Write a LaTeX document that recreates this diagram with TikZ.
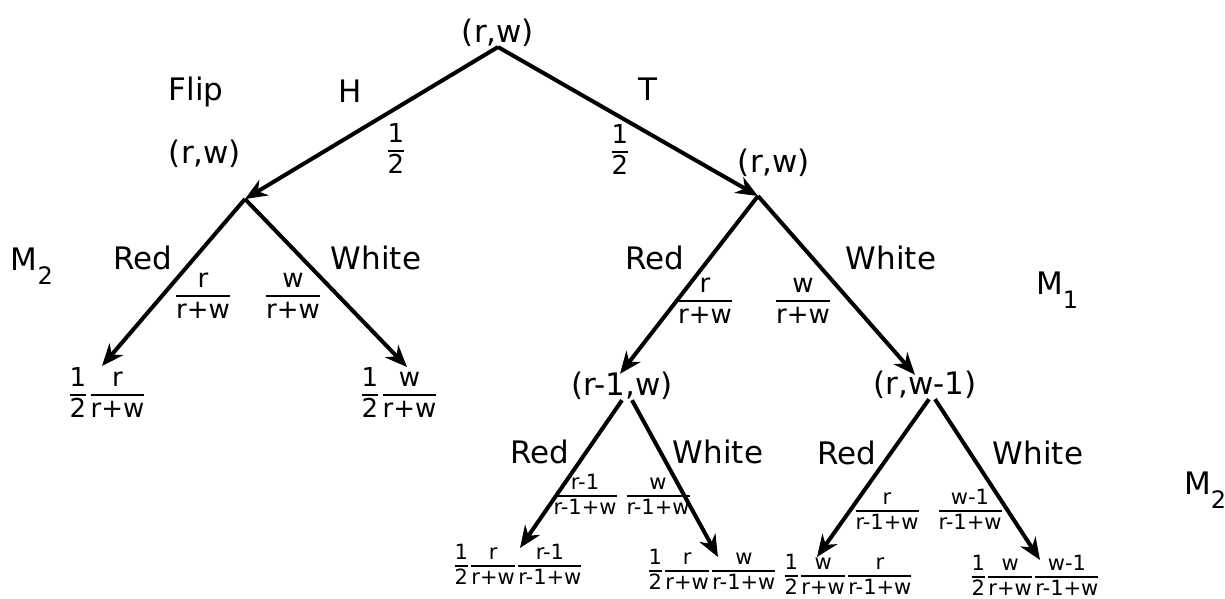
\documentclass[tikz,border=0pt]{standalone}
\usepackage{fontspec}
\setmainfont{DejaVu Sans}
\usetikzlibrary{arrows.meta}
\setlength{\arrayrulewidth}{1.2pt}
\renewcommand{\arraystretch}{1.08}
\newcommand{\fr}[2]{\begin{tabular}{@{}c@{}}#1\\[-1pt]\hline #2\end{tabular}}

\begin{document}
\begin{tikzpicture}[x=0.5pt,y=-0.5pt,
  lbl/.style={inner sep=1pt,font=\fontsize{15.5}{18}\selectfont},
  frc/.style={inner sep=0pt,font=\fontsize{13}{14}\selectfont},
  sml/.style={inner sep=0pt,font=\fontsize{10.5}{11.5}\selectfont},
  arr/.style={-{Stealth[length=11pt,width=9pt,inset=3.5pt]},line width=2pt}]
\useasboundingbox (0,0) rectangle (1225,599);
% first flip
\node[lbl,anchor=south] (root) at (498,49) {(r,w)};
\coordinate (hd) at (245,199);
\coordinate (tl) at (758,196);
\node[lbl] (hdl) at (205,154) {(r,w)};
\node[lbl] (tll) at (774,163) {(r,w)};
\node[lbl] (flip) at (196,92) {Flip};
\node[lbl] (h) at (350,91) {H};
\node[lbl] (t) at (648,89) {T};
\node[frc] (ph) at (396,152) {\fr{1}{2}};
\node[frc] (pt) at (620,153) {\fr{1}{2}};
\draw[arr] ([yshift=1pt]root.south) -- (hd);
\draw[arr] ([yshift=1pt]root.south) -- (tl);
% heads: one draw
\node[lbl] (mh) at (32,266) {M\raisebox{-0.8ex}{\fontsize{12}{13}\selectfont 2}};
\node[lbl] (hred) at (143,258) {Red};
\node[lbl] (hwht) at (376,258) {White};
\node[frc] (hpr) at (203,297) {\fr{r}{r+w}};
\node[frc] (hpw) at (293,297) {\fr{w}{r+w}};
\node[frc] (hlr) at (107,396) {\fr{1}{2}\,\fr{r}{r+w}};
\node[frc] (hlw) at (399,396) {\fr{1}{2}\,\fr{w}{r+w}};
\coordinate (hlrt) at (102,366);
\coordinate (hlwt) at (407,367);
\draw[arr] (hd) -- (hlrt);
\draw[arr] (hd) -- (hlwt);
% tails: two draws
\node[lbl] (tred) at (655,258) {Red};
\node[lbl] (twht) at (891,258) {White};
\node[frc] (tpr) at (705,302) {\fr{r}{r+w}};
\node[frc] (tpw) at (803,302) {\fr{w}{r+w}};
\node[lbl] (mt) at (1057,290) {M\raisebox{-0.8ex}{\fontsize{12}{13}\selectfont 1}};
\node[lbl] (rm) at (622,386) {(r-1,w)};
\node[lbl] (wm) at (925,385) {(r,w-1)};
\draw[arr] (tl) -- ([xshift=-1pt,yshift=-2pt]rm.north);
\draw[arr] (tl) -- ([xshift=-5pt,yshift=-3pt]wm.north);
% second draw after red
\node[lbl] (rred) at (540,452) {Red};
\node[lbl] (rwht) at (718,452) {White};
\node[sml] (rpr) at (585,497) {\fr{r-1}{r-1+w}};
\node[sml] (rpw) at (658,497) {\fr{w}{r-1+w}};
\node[sml] (rlr) at (518,567) {\fr{1}{2}\,\fr{r}{r+w}\,\fr{r-1}{r-1+w}};
\node[sml] (rlw) at (712,572) {\fr{1}{2}\,\fr{r}{r+w}\,\fr{w}{r-1+w}};
\coordinate (rlrt) at (520,548);
\coordinate (rlwt) at (718,557);
\draw[arr] ([yshift=1pt]rm.south) -- (rlrt);
\draw[arr] ([xshift=5pt,yshift=1pt]rm.south) -- (rlwt);
% second draw after white
\node[lbl] (wred) at (847,453) {Red};
\node[lbl] (wwht) at (1038,453) {White};
\node[sml] (wpr) at (887,512) {\fr{r}{r-1+w}};
\node[sml] (wpw) at (970,512) {\fr{w-1}{r-1+w}};
\node[sml] (wlr) at (848,577) {\fr{1}{2}\,\fr{w}{r+w}\,\fr{r}{r-1+w}};
\node[sml] (wlw) at (1035,578) {\fr{1}{2}\,\fr{w}{r+w}\,\fr{w-1}{r-1+w}};
\coordinate (wlrt) at (817,557);
\coordinate (wlwt) at (1040,560);
\draw[arr] ([xshift=2pt,yshift=1pt]wm.south) -- (wlrt);
\draw[arr] ([xshift=5pt,yshift=1pt]wm.south) -- (wlwt);
\node[lbl] (mw) at (1205,490) {M\raisebox{-0.8ex}{\fontsize{12}{13}\selectfont 2}};
\end{tikzpicture}
\end{document}
